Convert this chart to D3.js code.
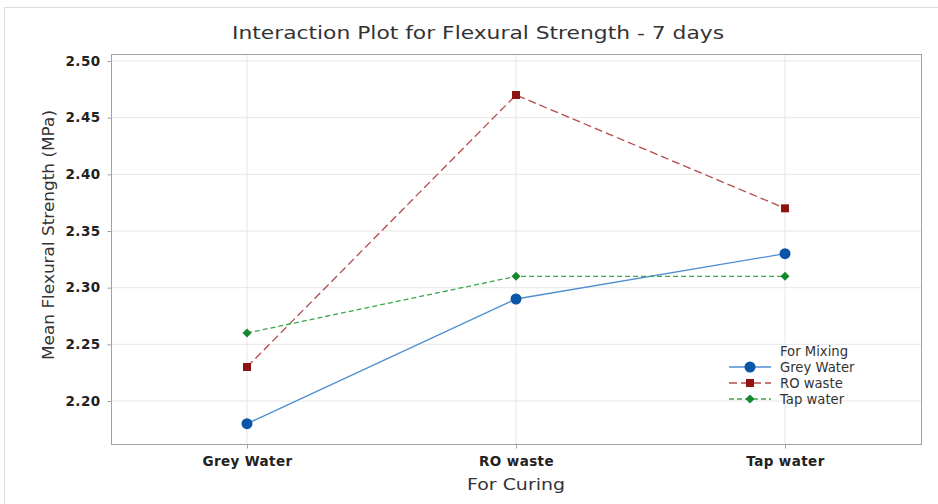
<!DOCTYPE html>
<html><head><meta charset="utf-8">
<script src="https://cdn.jsdelivr.net/npm/d3@7"></script>
<style>body{margin:0;background:#fff;} text{font-family:"DejaVu Sans","Open Sans",sans-serif;}</style>
</head><body><svg id="c" width="938" height="504"></svg>
<script>
const categories = ["Grey Water", "RO waste", "Tap water"];
const seriesNames = ["Grey Water", "RO waste", "Tap water"];
const greyWater = [2.18, 2.29, 2.33];
const roWaste = [2.23, 2.47, 2.37];
const tapWater = [2.26, 2.31, 2.31];
const yTicks = [2.20, 2.25, 2.30, 2.35, 2.40, 2.45, 2.50];

const series = [
  {name: seriesNames[0], values: greyWater, line: "#4f8fd0", marker: "#0b55a8", dash: null, shape: d3.symbolCircle, size: 95, rot: 0},
  {name: seriesNames[1], values: roWaste, line: "#b54a4a", marker: "#8e1414", dash: "8,4", shape: d3.symbolSquare, size: 64, rot: 0},
  {name: seriesNames[2], values: tapWater, line: "#3aa64a", marker: "#14882a", dash: "5,3", shape: d3.symbolSquare, size: 40, rot: 45}
];

const svg = d3.select("#c");
const L = 111, R = 921, T = 54, B = 444;

svg.append("rect").attr("x", 4.5).attr("y", 7.5).attr("width", 940).attr("height", 520)
  .attr("fill", "none").attr("stroke", "#dcdcdc");

const x = d3.scalePoint().domain(categories).range([247, 785]);
const y = d3.scaleLinear().domain([2.20, 2.50]).range([401, 61]);

svg.append("g").selectAll("line").data(yTicks).join("line")
  .attr("x1", L).attr("x2", R).attr("y1", d => y(d)).attr("y2", d => y(d))
  .attr("stroke", "#e6e6e6");
svg.append("g").selectAll("line").data(categories).join("line")
  .attr("x1", d => x(d)).attr("x2", d => x(d)).attr("y1", T).attr("y2", B)
  .attr("stroke", "#e6e6e6");

svg.append("rect").attr("x", L + 0.5).attr("y", T + 0.5).attr("width", R - L).attr("height", B - T)
  .attr("fill", "none").attr("stroke", "#a0a0a0");

const yAxis = svg.append("g").attr("transform", `translate(${L + 0.5},0)`)
  .call(d3.axisLeft(y).tickValues(yTicks).tickFormat(d3.format(".2f")).tickSize(4).tickPadding(7));
const xAxis = svg.append("g").attr("transform", `translate(0,${B + 0.5})`)
  .call(d3.axisBottom(x).tickSize(4).tickPadding(8));
[yAxis, xAxis].forEach(a => {
  a.select(".domain").remove();
  a.selectAll(".tick line").attr("stroke", "#a0a0a0");
  a.selectAll(".tick text").attr("fill", "#222").attr("font-size", 13.5).attr("font-weight", 600)
    .attr("letter-spacing", 0.4)
    .style("font-family", "'DejaVu Sans','Open Sans',sans-serif");
});

const line = d3.line().x((d, i) => x(categories[i])).y(d => y(d));
series.forEach(s => {
  svg.append("path").datum(s.values).attr("d", line).attr("fill", "none")
    .attr("stroke", s.line).attr("stroke-width", 1.3).attr("stroke-dasharray", s.dash);
  svg.append("g").selectAll("path").data(s.values).join("path")
    .attr("transform", (d, i) => `translate(${x(categories[i])},${y(d)}) rotate(${s.rot})`)
    .attr("d", d3.symbol().type(s.shape).size(s.size)).attr("fill", s.marker);
});

svg.append("text").attr("x", 478).attr("y", 39).attr("text-anchor", "middle")
  .attr("font-size", 18.5).attr("fill", "#333")
  .attr("textLength", 492).attr("lengthAdjust", "spacingAndGlyphs")
  .text("Interaction Plot for Flexural Strength - 7 days");
svg.append("text").attr("transform", "translate(54,235) rotate(-90)").attr("text-anchor", "middle")
  .attr("font-size", 15.5).attr("fill", "#333")
  .attr("textLength", 250).attr("lengthAdjust", "spacingAndGlyphs")
  .text("Mean Flexural Strength (MPa)");
svg.append("text").attr("x", 516).attr("y", 490).attr("text-anchor", "middle")
  .attr("font-size", 16.5).attr("fill", "#333")
  .attr("textLength", 98).attr("lengthAdjust", "spacingAndGlyphs")
  .text("For Curing");

const lg = svg.append("g");
lg.append("text").attr("x", 780).attr("y", 356).attr("font-size", 13.2).attr("fill", "#333").text("For Mixing");
series.forEach((s, i) => {
  const yy = 367 + i * 16;
  lg.append("line").attr("x1", 729).attr("x2", 771).attr("y1", yy).attr("y2", yy)
    .attr("stroke", s.line).attr("stroke-width", 1.3).attr("stroke-dasharray", s.dash);
  lg.append("path").attr("transform", `translate(750,${yy}) rotate(${s.rot})`)
    .attr("d", d3.symbol().type(s.shape).size(s.size)).attr("fill", s.marker);
  lg.append("text").attr("x", 780).attr("y", yy + 4.5).attr("font-size", 13.2)
    .attr("fill", "#333").text(s.name);
});
</script></body></html>
